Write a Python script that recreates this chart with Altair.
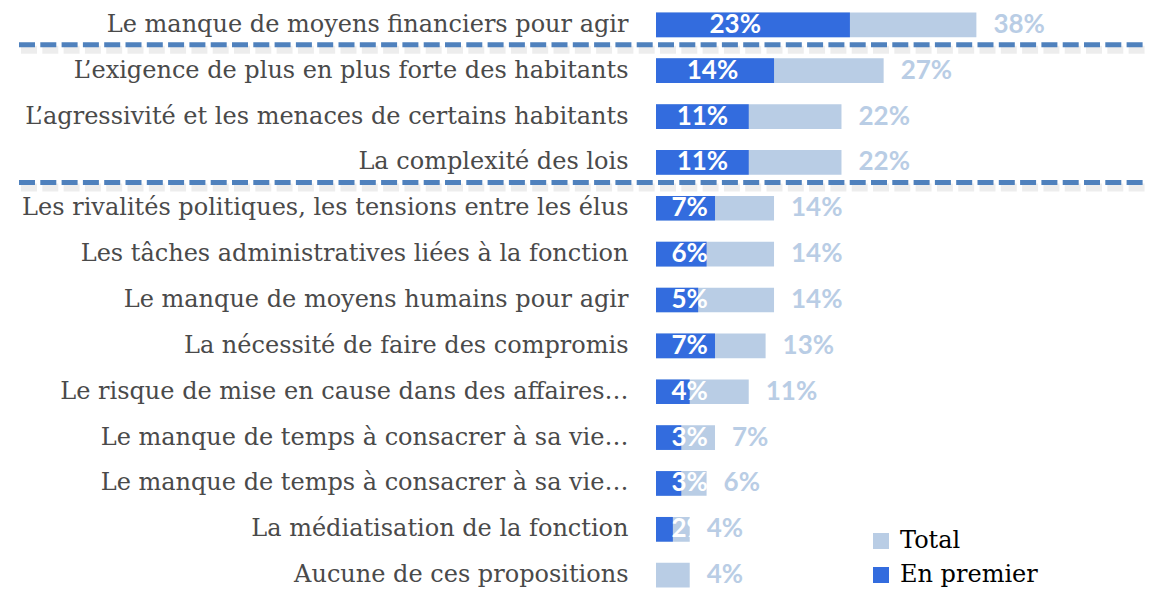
import altair as alt
import pandas as pd

categories = [
    "Le manque de moyens financiers pour agir",
    "L\u2019exigence de plus en plus forte des habitants",
    "L\u2019agressivit\u00e9 et les menaces de certains habitants",
    "La complexit\u00e9 des lois",
    "Les rivalit\u00e9s politiques, les tensions entre les \u00e9lus",
    "Les t\u00e2ches administratives li\u00e9es \u00e0 la fonction",
    "Le manque de moyens humains pour agir",
    "La n\u00e9cessit\u00e9 de faire des compromis",
    "Le risque de mise en cause dans des affaires\u2026",
    "Le manque de temps \u00e0 consacrer \u00e0 sa vie\u2026",
    "Le manque de temps \u00e0 consacrer \u00e0 sa vie\u2026\u200b",
    "La m\u00e9diatisation de la fonction",
    "Aucune de ces propositions",
]
total = [38, 27, 22, 22, 14, 14, 14, 13, 11, 7, 6, 4, 4]
premier = [23, 14, 11, 11, 7, 6, 5, 7, 4, 3, 3, 2, None]
separators_after = [categories[0], categories[3]]

df = pd.DataFrame({"cat": categories, "total": total, "premier": premier})
sep_df = pd.DataFrame({"cat": separators_after})

LIGHT = "#B9CDE5"
DARK = "#336CDE"

y_enc = alt.Y(
    "cat:N",
    sort=categories,
    scale=alt.Scale(paddingInner=0.462, paddingOuter=0, range=[4.5, 579.5]),
    axis=alt.Axis(
        title=None, ticks=False, domain=False, labelPadding=28, labelLimit=0,
        labelFont="DejaVu Serif", labelFontSize=24, labelColor="#4a4a4a",
    ),
)
x_scale = alt.Scale(domain=[0, 58])
color_scale = alt.Scale(domain=["Total", "En premier"], range=[LIGHT, DARK])
legend = alt.Legend(
    title=None, orient="none", legendX=213, legendY=521,
    symbolType="square", symbolSize=256, symbolStrokeWidth=0,
    labelFont="DejaVu Serif", labelFontSize=24, labelColor="#000000",
    rowPadding=10, labelOffset=7,
)

base = alt.Chart(df)

bars_total = base.mark_bar().encode(
    y=y_enc,
    x=alt.X("total:Q", scale=x_scale, axis=None),
    color=alt.Color("k:N", scale=color_scale, legend=legend),
).transform_calculate(k="'Total'")

bars_premier = base.transform_filter("datum.premier != null").mark_bar().encode(
    y=y_enc,
    x=alt.X("premier:Q", scale=x_scale, axis=None),
    color=alt.Color("k:N", scale=color_scale, legend=legend),
).transform_calculate(k="'En premier'")

lbl_total = base.mark_text(
    align="left", baseline="middle", dx=17, font="Lato", fontWeight="bold",
    fontSize=26, color=LIGHT,
).encode(
    y=y_enc,
    x=alt.X("total:Q", scale=x_scale, axis=None),
    text=alt.Text("lt:N"),
).transform_calculate(lt="datum.total + '%'")

lbl_premier = base.transform_filter("datum.premier != null").transform_calculate(
    pos="max(4, min(datum.premier / 2, 2.5 + 0.3 * datum.premier))",
    lp="datum.premier + '%'",
).mark_text(
    align="center", baseline="middle", font="Lato", fontWeight="bold",
    fontSize=26, color="white",
).encode(
    y=y_enc,
    x=alt.X("pos:Q", scale=x_scale, axis=None),
    text=alt.Text("lp:N"),
)

sep_shadow = alt.Chart(sep_df).mark_rule(
    color="#000000", opacity=0.07, strokeWidth=8, strokeDash=[16, 5.3], yOffset=25,
).encode(y=y_enc, x=alt.value(-635), x2=alt.value(510))

sep = alt.Chart(sep_df).mark_rule(
    color="#4F81BD", strokeWidth=5, strokeDash=[16, 5.3], yOffset=20,
).encode(y=y_enc, x=alt.value(-637), x2=alt.value(510))

chart = alt.layer(
    bars_total, bars_premier, lbl_total, lbl_premier, sep_shadow, sep
).properties(
    width=489, height=581,
    autosize=alt.AutoSizeParams(type="none"),
    padding={"left": 648, "top": 0, "right": 0, "bottom": 0},
    background="white",
).configure_view(stroke=None)

chart.save("out.html", embed_options={"renderer": "svg", "actions": False})
